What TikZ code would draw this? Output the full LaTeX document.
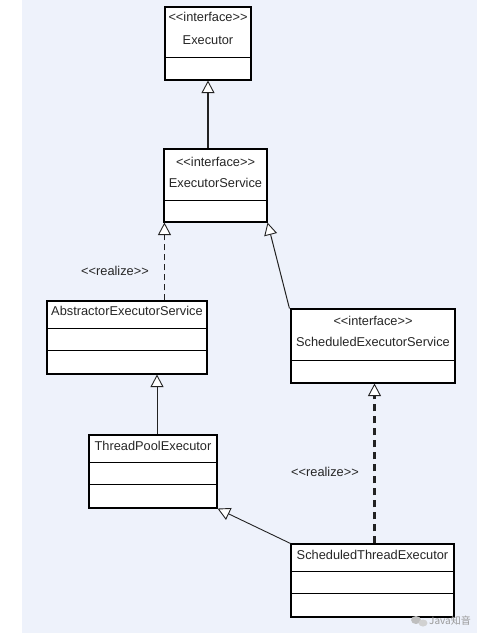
\documentclass[tikz,border=0pt]{standalone}
\usepackage{fontspec}
\setmainfont{Liberation Sans}[Ligatures=TeXOff]
\newfontfamily\cjkfont{Noto Sans CJK SC}
\usetikzlibrary{arrows.meta,calc}
\definecolor{bgblue}{HTML}{EEF2FB}
\definecolor{linegray}{HTML}{222222}
\tikzset{
  classbox/.style={draw=black, line width=1.1pt, fill=white, inner sep=0pt},
  txt/.style={font=\fontsize{12.8}{14}\selectfont, inner sep=0pt, text=black!85},
  divider/.style={draw=black, line width=1pt},
  inh/.style={-{Triangle[fill=white,length=12.5pt,width=13pt,line width=0.9pt]}, draw=linegray},
}
\begin{document}
\begin{tikzpicture}[x=1pt,y=-1pt]
\useasboundingbox (0,0) rectangle (493,633);
\fill[white] (0,0) rectangle (493,633);
\fill[bgblue] (22,0) rectangle (477,633);

% Executor
\node[classbox, minimum width=86pt, minimum height=73pt] (ex) at (208,43.5) {};
\node[txt] (ex1) at (208,17) {<<interface>>};
\node[txt] (ex2) at (208,40) {Executor};
\draw[divider] (ex.west |- 0,57) -- (ex.east |- 0,57);

% ExecutorService
\node[classbox, minimum width=103pt, minimum height=73pt] (es) at (215.5,185.5) {};
\node[txt] (es1) at (215.5,162) {<<interface>>};
\node[txt] (es2) at (215.5,183) {ExecutorService};
\draw[divider] (es.west |- 0,200) -- (es.east |- 0,200);

% AbstractorExecutorService
\node[classbox, minimum width=160pt, minimum height=73pt] (aes) at (127,337.5) {};
\node[txt] (aes1) at (127,311) {AbstractorExecutorService};
\draw[divider] (aes.west |- 0,328) -- (aes.east |- 0,328);
\draw[divider] (aes.west |- 0,350) -- (aes.east |- 0,350);

% ScheduledExecutorService
\node[classbox, minimum width=164pt, minimum height=74pt] (ses) at (373,346) {};
\node[txt] (ses1) at (373,321) {<<interface>>};
\node[txt] (ses2) at (373,342) {ScheduledExecutorService};
\draw[divider] (ses.west |- 0,360) -- (ses.east |- 0,360);

% ThreadPoolExecutor
\node[classbox, minimum width=128pt, minimum height=73pt] (tpe) at (153,471.5) {};
\node[txt] (tpe1) at (153,446) {ThreadPoolExecutor};
\draw[divider] (tpe.west |- 0,462) -- (tpe.east |- 0,462);
\draw[divider] (tpe.west |- 0,484) -- (tpe.east |- 0,484);

% ScheduledThreadExecutor
\node[classbox, minimum width=163pt, minimum height=73pt] (ste) at (372.5,580.5) {};
\node[txt] (ste1) at (372.5,555) {ScheduledThreadExecutor};
\draw[divider] (ste.west |- 0,571) -- (ste.east |- 0,571);
\draw[divider] (ste.west |- 0,593) -- (ste.east |- 0,593);

% connectors
\coordinate (esbl) at ($(es.south west)+(1,0)$);
\coordinate (esbr) at ($(es.south east)+(0,0)$);
\coordinate (tpebr) at (tpe.south east);
\coordinate (sestl) at ($(ses.north west)+(-1,0)$);
\coordinate (stetl) at (ste.north west);

\draw[inh, line width=1.8pt] (es.north -| ex.south) -- (ex.south);
\draw[inh, line width=0.9pt, dash pattern=on 6pt off 4pt] (aes.north -| esbl) -- (esbl);
\draw[inh, line width=1pt] (sestl) -- (esbr);
\draw[inh, line width=0.9pt] (tpe.north -| 157,0) -- (aes.south -| 157,0);
\draw[inh, line width=2.4pt, dash pattern=on 7pt off 5pt] (ste.north -| 374.5,0) -- (ses.south -| 374.5,0);
\draw[inh, line width=0.9pt] (stetl) -- (tpebr);

% labels
\node[txt] (r1) at (115,271) {<<realize>>};
\node[txt] (r2) at (325,472) {<<realize>>};

% watermark
\node[inner sep=0pt, text=black!40, font=\cjkfont\fontsize{10}{12}\selectfont] (wm) at (450,621) {Java知音};
\fill[black!25] (416,620) ellipse (5pt and 4pt);
\fill[black!18] (423,623) ellipse (4.5pt and 3.5pt);
\end{tikzpicture}
\end{document}
